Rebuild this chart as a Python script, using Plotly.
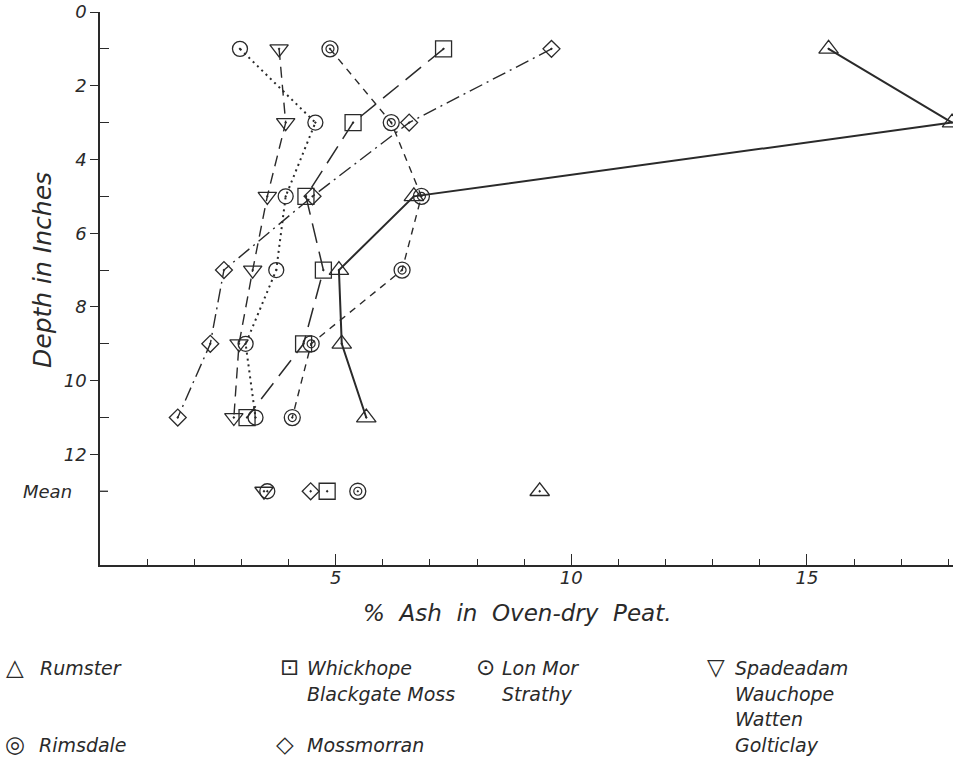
import plotly.graph_objects as go

# ---------------- data ----------------
depths = [1, 3, 5, 7, 9, 11]          # depth in inches
mean_row = 13                          # position of the "Mean" row on the depth axis

rumster = [15.46, 18.08, 6.66, 5.07, 5.13, 5.65]
whickhope = [7.29, 5.37, 4.37, 4.74, 4.32, 3.12]
lon_mor = [2.97, 4.57, 3.94, 3.74, 3.09, 3.30]
spadeadam = [3.80, 3.94, 3.55, 3.24, 2.95, 2.84]
rimsdale = [4.88, 6.18, 6.82, 6.41, 4.48, 4.08]
mossmorran = [9.58, 6.56, 4.51, 2.63, 2.34, 1.65]

mean_rumster = 9.33
mean_whickhope = 4.82
mean_lon_mor = 3.55
mean_spadeadam = 3.48
mean_rimsdale = 5.47
mean_mossmorran = 4.47

x_tick_vals = [5, 10, 15]
x_minor_vals = [1, 2, 3, 4, 6, 7, 8, 9, 11, 12, 13, 14, 16, 17, 18]
y_tick_vals = [0, 2, 4, 6, 8, 10, 12]
y_tick_text = ["0", "2", "4", "6", "8", "10", "12"]
y_minor_vals = [1, 3, 5, 7, 9, 11]

legend_rows = [
    ("\u25B3", ["Rumster"]),
    ("\u22A1", ["Whickhope", "Blackgate Moss"]),
    ("\u2299", ["Lon Mor", "Strathy"]),
    ("\u25BD", ["Spadeadam", "Wauchope", "Watten", "Golticlay"]),
    ("\u25CE", ["Rimsdale"]),
    ("\u25C7", ["Mossmorran"]),
]

# ---------------- style ----------------
INK = "#2a2a2a"
FONT = "DejaVu Sans"
W, H = 953, 757
L, R, T, B = 100, 0, 12, 192

series = [
    dict(x=rumster, m=mean_rumster, sym="triangle-up-open-dot", size=17, dash="solid", width=2.0),
    dict(x=whickhope, m=mean_whickhope, sym="square-open-dot", size=16, dash="20px,9px", width=1.5),
    dict(x=lon_mor, m=mean_lon_mor, sym="circle-open-dot", size=15, dash="2px,4px", width=2.0),
    dict(x=spadeadam, m=mean_spadeadam, sym="triangle-down-open-dot", size=16, dash="11px,7px", width=1.4),
    dict(x=rimsdale, m=mean_rimsdale, sym="circle-open", size=16, dash="7px,6px", width=1.4),
    dict(x=mossmorran, m=mean_mossmorran, sym="diamond-open-dot", size=13, dash="14px,5px,2px,5px", width=1.4),
]

fig = go.Figure()
for s in series:
    fig.add_trace(go.Scatter(
        x=s["x"], y=depths, mode="lines+markers",
        line=dict(color=INK, width=s["width"], dash=s["dash"]),
        marker=dict(symbol=s["sym"], size=s["size"], color=INK, line=dict(color=INK, width=1.3)),
        showlegend=False, hoverinfo="skip"))
    fig.add_trace(go.Scatter(
        x=[s["m"]], y=[mean_row], mode="markers",
        marker=dict(symbol=s["sym"], size=s["size"], color=INK, line=dict(color=INK, width=1.3)),
        showlegend=False, hoverinfo="skip"))

# inner ring of Rimsdale's double circle
fig.add_trace(go.Scatter(
    x=rimsdale + [mean_rimsdale], y=depths + [mean_row], mode="markers",
    marker=dict(symbol="circle-open-dot", size=8, color=INK, line=dict(color=INK, width=1.2)),
    showlegend=False, hoverinfo="skip"))

plot_w = W - L - R
plot_h = H - T - B


def px(x):
    return (x - L) / plot_w


def py(y):
    return (H - B - y) / plot_h


ann = []
# y axis title
ann.append(dict(text="Depth in Inches", x=px(42), y=py(270), xref="paper", yref="paper",
                textangle=-90, showarrow=False, xanchor="center", yanchor="middle",
                font=dict(family=FONT, size=25, style="italic", color=INK)))
# Mean label
ann.append(dict(text="Mean", x=px(74), y=mean_row, xref="paper", yref="y",
                showarrow=False, xanchor="right", yanchor="middle",
                font=dict(family=FONT, size=18, style="italic", color=INK)))
# x axis title
nb = "\u00a0\u00a0"
ann.append(dict(text="%" + nb + "Ash" + nb + "in" + nb + "Oven-dry" + nb + "Peat.",
                x=px(517), y=py(613), xref="paper", yref="paper",
                showarrow=False, xanchor="center", yanchor="middle",
                font=dict(family=FONT, size=23, style="italic", color=INK)))

# legend
sym_pos = [(15, 667), (289, 667), (485, 667), (716, 667), (15, 744), (285, 744)]
txt_x = [38, 305, 500, 733, 37, 305]
line_ys = [668, 694, 719, 745]
for (sym, names), (sx, sy), tx in zip(legend_rows, sym_pos, txt_x):
    ann.append(dict(text=sym, x=px(sx), y=py(sy), xref="paper", yref="paper",
                    showarrow=False, xanchor="center", yanchor="middle",
                    font=dict(family=FONT, size=23, color=INK)))
    for i, name in enumerate(names):
        ann.append(dict(text=name, x=px(tx), y=py(sy + 1 + (line_ys[i] - line_ys[0])),
                        xref="paper", yref="paper",
                        showarrow=False, xanchor="left", yanchor="middle",
                        font=dict(family=FONT, size=19, style="italic", color=INK)))

fig.update_layout(
    width=W, height=H,
    margin=dict(l=L, r=R, t=T, b=B, pad=0),
    paper_bgcolor="white", plot_bgcolor="white",
    annotations=ann,
    shapes=[dict(type="line", xref="x", yref="y", xsizemode="pixel", xanchor=0,
                 x0=-6, x1=8, y0=mean_row, y1=mean_row,
                 line=dict(color=INK, width=1.3))],
    xaxis=dict(range=[0, 18.1], showgrid=False, zeroline=False,
               showline=True, linecolor=INK, linewidth=1.6,
               ticks="inside", tickvals=x_tick_vals, ticklen=11, tickwidth=1.3, tickcolor=INK,
               ticklabelstandoff=-4,
               tickfont=dict(family=FONT, size=18, style="italic", color=INK),
               minor=dict(ticks="inside", tickmode="array", tickvals=x_minor_vals,
                          ticklen=6, tickwidth=1.2, tickcolor=INK, showgrid=False)),
    yaxis=dict(range=[15, 0], showgrid=False, zeroline=False,
               showline=True, linecolor=INK, linewidth=1.6,
               ticks="outside", tickvals=y_tick_vals, ticktext=y_tick_text,
               ticklen=8, tickwidth=1.3, tickcolor=INK,
               tickfont=dict(family=FONT, size=18, style="italic", color=INK),
               minor=dict(ticks="inside", tickmode="array", tickvals=y_minor_vals,
                          ticklen=9, tickwidth=1.2, tickcolor=INK, showgrid=False)),
)

fig.write_html("out.html")
